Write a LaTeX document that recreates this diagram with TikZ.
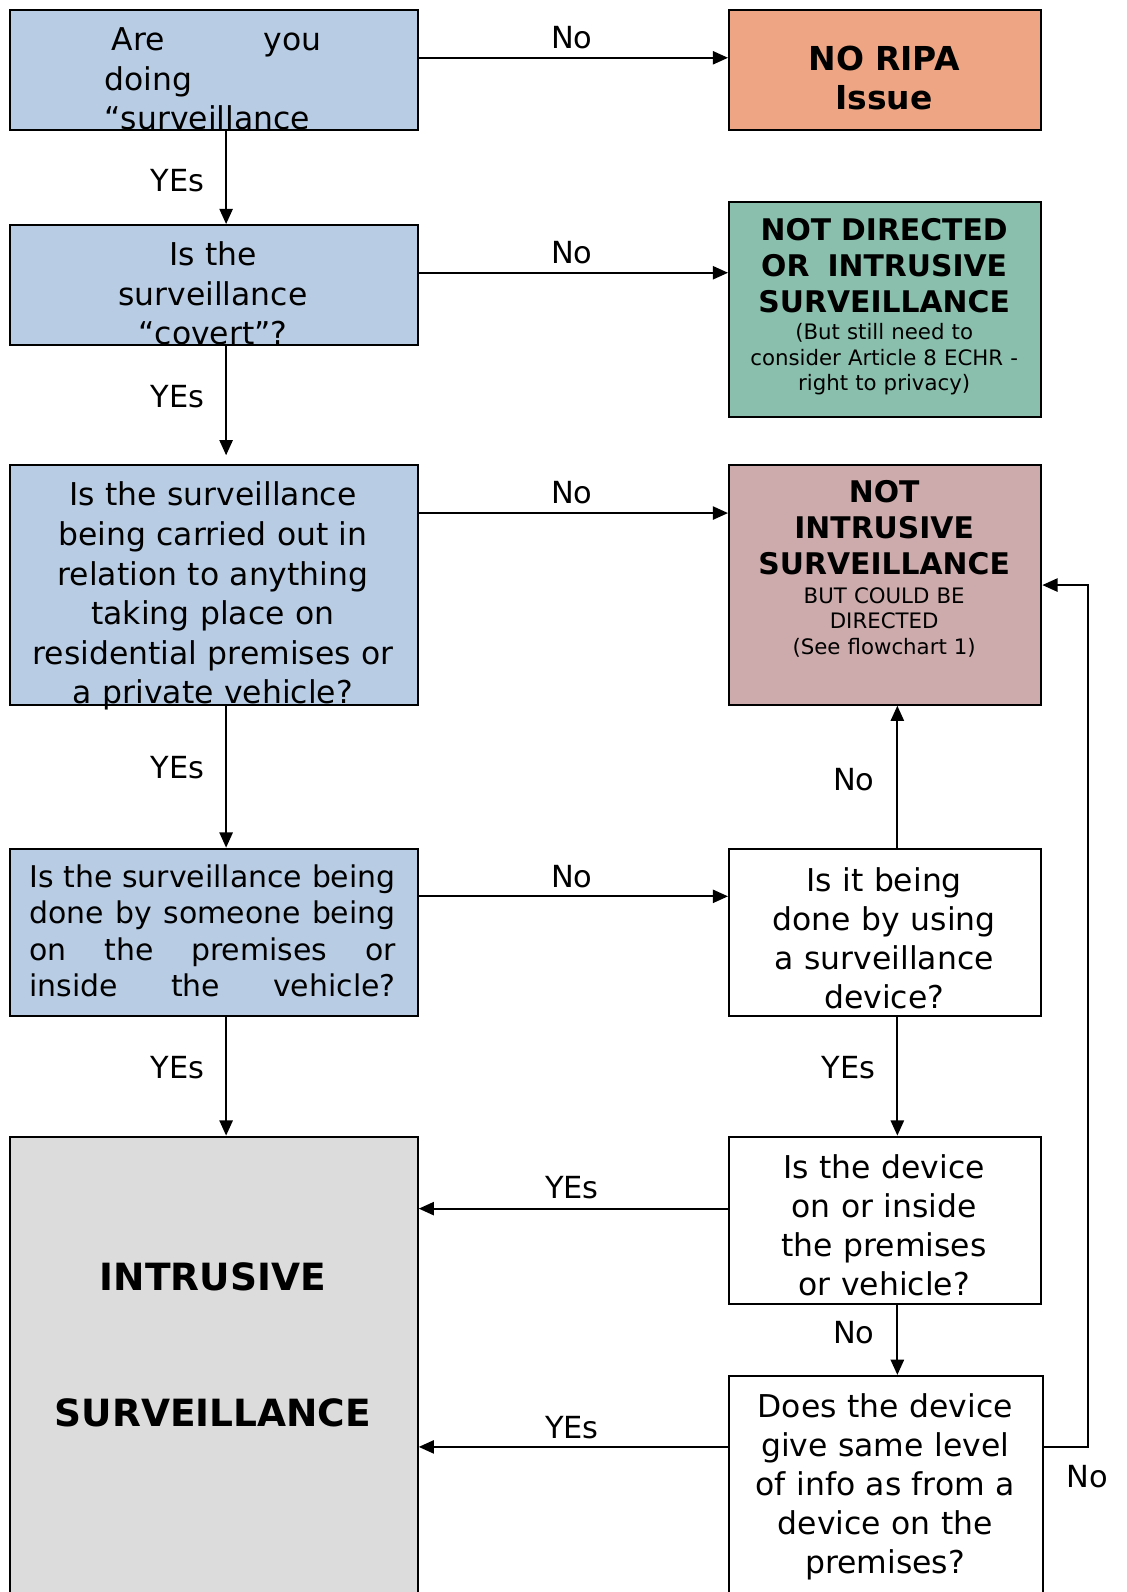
\documentclass[tikz,border=0pt]{standalone}
\usepackage{fontspec}
\setmainfont{DejaVu Sans}
\usetikzlibrary{arrows.meta}
\definecolor{qblue}{HTML}{B8CCE4}
\definecolor{qsalmon}{HTML}{EDA584}
\definecolor{qgreen}{HTML}{8ABFAD}
\definecolor{qpink}{HTML}{CDAAAB}
\definecolor{qgrey}{HTML}{DCDCDC}
\newcommand{\jline}[2]{\leavevmode\hbox to #1{#2}}
\begin{document}
\begin{tikzpicture}[x=1pt,y=-1pt,
  box/.style={draw=black,line width=2pt,rectangle,inner sep=0pt,anchor=north west},
  body/.style={inner sep=0pt,anchor=base,align=center,font=\fontsize{31}{39}\selectfont},
  head/.style={inner sep=0pt,anchor=base,align=center,font=\bfseries\fontsize{29.4}{35.5}\selectfont},
  small/.style={inner sep=0pt,anchor=base,align=center,font=\fontsize{21}{25.2}\selectfont},
  lab/.style={inner sep=0pt,anchor=base,font=\fontsize{30}{36}\selectfont},
  arr/.style={line width=2pt,-{Triangle[length=15pt,width=13pt]}}]
\clip (0,0) rectangle (1111.4,1570.1);
\useasboundingbox (0,0) rectangle (1111.4,1570.1);
\fill[white] (0,0) rectangle (1111.4,1570.1);
% boxes
\node[box,fill=qblue,minimum width=402pt,minimum height=118pt] (b1) at (9,9) {};
\node[box,fill=qsalmon,minimum width=308pt,minimum height=118pt] (ripa) at (718,9) {};
\node[box,fill=qblue,minimum width=402pt,minimum height=118pt] (b2) at (9,221) {};
\node[box,fill=qgreen,minimum width=308pt,minimum height=212pt] (green) at (718,198) {};
\node[box,fill=qblue,minimum width=402pt,minimum height=236pt] (b3) at (9,458) {};
\node[box,fill=qpink,minimum width=308pt,minimum height=236pt] (pink) at (718,458) {};
\node[box,fill=qblue,minimum width=402pt,minimum height=165pt] (b4) at (9,836) {};
\node[box,fill=white,minimum width=308pt,minimum height=165pt] (w1) at (718,836) {};
\node[box,fill=qgrey,minimum width=402pt,minimum height=480pt] (grey) at (9,1120) {};
\node[box,fill=white,minimum width=308pt,minimum height=165pt] (w2) at (718,1120) {};
\node[box,fill=white,minimum width=310pt,minimum height=240pt] (w3) at (718,1356) {};
% texts
\node[body,anchor=base west,align=left,text width=214pt] (t1) at (103,50)
  {\jline{214pt}{\hspace{7pt}Are\hfill you}\\doing\\“surveillance};
\node[inner sep=0pt,anchor=base,align=center,text width=300pt,font=\bfseries\fontsize{32.5}{38}\selectfont] (tripa) at (872,70) {NO RIPA\\Issue};
\node[body,text width=400pt] (t2) at (210,262) {Is the\\surveillance\\“covert”?};
\node[head,text width=300pt] (tg) at (872,237) {NOT DIRECTED\\OR\hspace{8pt} INTRUSIVE\\SURVEILLANCE};
\node[small,text width=300pt] (tgs) at (872,335) {(But still need to\\consider Article 8 ECHR -\\right to privacy)};
\node[body,text width=400pt] (t3) at (210,499) {Is the surveillance\\being carried out in\\relation to anything\\taking place on\\residential premises or\\a private vehicle?};
\node[head,text width=300pt] (tp) at (872,496) {NOT\\INTRUSIVE\\SURVEILLANCE};
\node[small,text width=300pt] (tps) at (872,595) {BUT COULD BE\\DIRECTED\\(See flowchart 1)};
\node[body,anchor=base west,align=left,text width=361pt,font=\fontsize{29.5}{36}\selectfont] (t4) at (29,875)
  {\jline{361pt}{Is\hfill the\hfill surveillance\hfill being}\\
   \jline{361pt}{done\hfill by\hfill someone\hfill being}\\
   \jline{361pt}{on\hfill the\hfill premises\hfill or}\\
   \jline{361pt}{inside\hfill the\hfill vehicle?}};
\node[body,text width=300pt,font=\fontsize{31}{38.5}\selectfont] (tw1) at (872,879) {Is it being\\done by using\\a surveillance\\device?};
\node[inner sep=0pt,anchor=base,align=center,text width=400pt,font=\bfseries\fontsize{37}{134}\selectfont] (tgr) at (210,1273) {INTRUSIVE\\SURVEILLANCE};
\node[body,text width=300pt,font=\fontsize{31}{38.7}\selectfont] (tw2) at (872,1162) {Is the device\\on or inside\\the premises\\or vehicle?};
\node[body,text width=300pt,font=\fontsize{31}{38.5}\selectfont] (tw3) at (873,1398) {Does the device\\give same level\\of info as from a\\device on the\\premises?};
% connectors
\draw[arr] ([yshift=12pt]b1.east) -- ([yshift=12pt]ripa.west);
\draw[arr] ([xshift=12pt]b1.south) -- ([xshift=12pt]b2.north);
\draw[arr] ([yshift=12pt]b2.east) -- ([yshift=36pt]green.west);
\draw[arr,shorten >=9pt] ([xshift=12pt]b2.south) -- ([xshift=12pt]b3.north);
\draw[arr] ([yshift=71pt]b3.east) -- ([yshift=71pt]pink.west);
\draw[arr] ([xshift=12pt]b3.south) -- ([xshift=12pt]b4.north);
\draw[arr] ([yshift=35.5pt]b4.east) -- ([yshift=35.5pt]w1.west);
\draw[arr] ([xshift=12pt]w1.north) -- ([xshift=12pt]pink.south);
\draw[arr] ([xshift=12pt]b4.south) -- ([xshift=12pt]grey.north);
\draw[arr] ([xshift=12pt]w1.south) -- ([xshift=12pt]w2.north);
\draw[arr] ([yshift=11.5pt]w2.west) -- ([yshift=11.5pt]w2.west -| grey.east);
\draw[arr] ([xshift=12pt]w2.south) -- ([xshift=11pt]w3.north);
\coordinate (w3l) at (718,1427);
\coordinate (w3r) at (1028,1427);
\coordinate (loop) at (1073,1427);
\draw[arr] (w3l) -- (w3l -| grey.east);
\draw[arr] (w3r) -- (loop) -- (loop |- pink.east) -- (pink.east);
% labels
\node[lab] (l1) at (564,48) {No};
\node[lab] (l2) at (564,260) {No};
\node[lab] (l3) at (564,497) {No};
\node[lab] (l4) at (564,875) {No};
\node[lab] (l5) at (842,780) {No};
\node[lab] (l6) at (842,1325) {No};
\node[lab] (l7) at (1072,1467) {No};
\node[lab] (y1) at (175,189) {YEs};
\node[lab] (y2) at (175,402) {YEs};
\node[lab] (y3) at (175,768) {YEs};
\node[lab] (y4) at (175,1064) {YEs};
\node[lab] (y5) at (837,1064) {YEs};
\node[lab] (y6) at (564,1182) {YEs};
\node[lab] (y7) at (564,1419) {YEs};
\end{tikzpicture}
\end{document}
